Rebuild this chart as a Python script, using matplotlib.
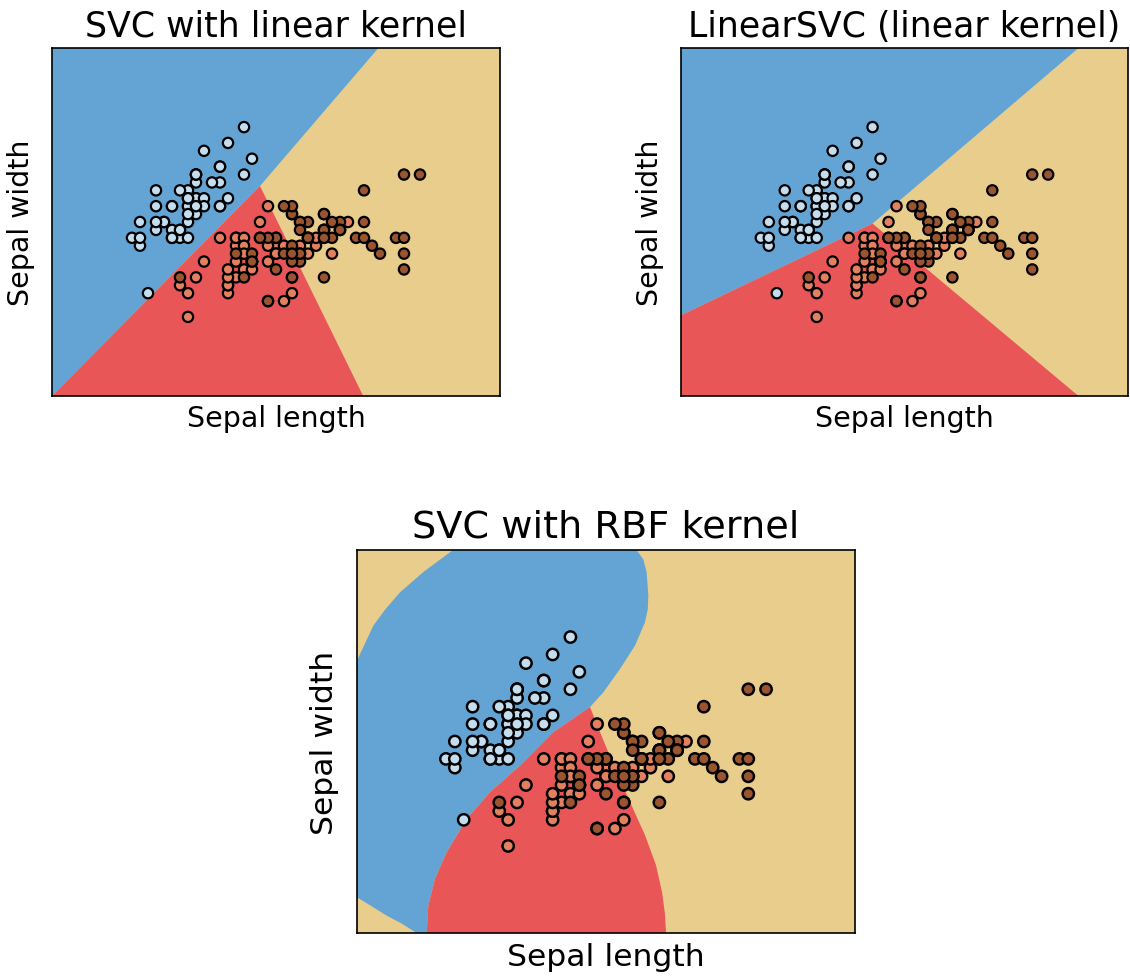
import numpy as np
import matplotlib.pyplot as plt

# iris: sepal length / sepal width, 50 per species
sepal_length = [
    5.1, 4.9, 4.7, 4.6, 5.0, 5.4, 4.6, 5.0, 4.4, 4.9, 5.4, 4.8, 4.8, 4.3, 5.8, 5.7, 5.4, 5.1, 5.7, 5.1,
    5.4, 5.1, 4.6, 5.1, 4.8, 5.0, 5.0, 5.2, 5.2, 4.7, 4.8, 5.4, 5.2, 5.5, 4.9, 5.0, 5.5, 4.9, 4.4, 5.1,
    5.0, 4.5, 4.4, 5.0, 5.1, 4.8, 5.1, 4.6, 5.3, 5.0,
    7.0, 6.4, 6.9, 5.5, 6.5, 5.7, 6.3, 4.9, 6.6, 5.2, 5.0, 5.9, 6.0, 6.1, 5.6, 6.7, 5.6, 5.8, 6.2, 5.6,
    5.9, 6.1, 6.3, 6.1, 6.4, 6.6, 6.8, 6.7, 6.0, 5.7, 5.5, 5.5, 5.8, 6.0, 5.4, 6.0, 6.7, 6.3, 5.6, 5.5,
    5.5, 6.1, 5.8, 5.0, 5.6, 5.7, 5.7, 6.2, 5.1, 5.7,
    6.3, 5.8, 7.1, 6.3, 6.5, 7.6, 4.9, 7.3, 6.7, 7.2, 6.5, 6.4, 6.8, 5.7, 5.8, 6.4, 6.5, 7.7, 7.7, 6.0,
    6.9, 5.6, 7.7, 6.3, 6.7, 7.2, 6.2, 6.1, 6.4, 7.2, 7.4, 7.9, 6.4, 6.3, 6.1, 7.7, 6.3, 6.4, 6.0, 6.9,
    6.7, 6.9, 5.8, 6.8, 6.7, 6.7, 6.3, 6.5, 6.2, 5.9,
]
sepal_width = [
    3.5, 3.0, 3.2, 3.1, 3.6, 3.9, 3.4, 3.4, 2.9, 3.1, 3.7, 3.4, 3.0, 3.0, 4.0, 4.4, 3.9, 3.5, 3.8, 3.8,
    3.4, 3.7, 3.6, 3.3, 3.4, 3.0, 3.4, 3.5, 3.4, 3.2, 3.1, 3.4, 4.1, 4.2, 3.1, 3.2, 3.5, 3.6, 3.0, 3.4,
    3.5, 2.3, 3.2, 3.5, 3.8, 3.0, 3.8, 3.2, 3.7, 3.3,
    3.2, 3.2, 3.1, 2.3, 2.8, 2.8, 3.3, 2.4, 2.9, 2.7, 2.0, 3.0, 2.2, 2.9, 2.9, 3.1, 3.0, 2.7, 2.2, 2.5,
    3.2, 2.8, 2.5, 2.8, 2.9, 3.0, 2.8, 3.0, 2.9, 2.6, 2.4, 2.4, 2.7, 2.7, 3.0, 3.4, 3.1, 2.3, 3.0, 2.5,
    2.6, 3.0, 2.6, 2.3, 2.7, 3.0, 2.9, 2.9, 2.5, 2.8,
    3.3, 2.7, 3.0, 2.9, 3.0, 3.0, 2.5, 2.9, 2.5, 3.6, 3.2, 2.7, 3.0, 2.5, 2.8, 3.2, 3.0, 3.8, 2.6, 2.2,
    3.2, 2.8, 2.8, 2.7, 3.3, 3.2, 2.8, 3.0, 2.8, 3.0, 2.8, 3.8, 2.8, 2.8, 2.6, 3.0, 3.4, 3.1, 3.0, 3.1,
    3.1, 3.1, 2.7, 3.2, 3.3, 3.0, 2.5, 3.0, 3.4, 3.0,
]
species = [0] * 50 + [1] * 50 + [2] * 50

x_range = [3.3, 8.9]
y_range = [1.0, 5.4]

# decision regions (sepal length, sepal width)
svc_blue_x = [3.3, 7.38, 5.90, 3.3]
svc_blue_y = [5.4, 5.4, 3.655, 1.0]
svc_red_x = [3.3, 5.90, 7.19]
svc_red_y = [1.0, 3.655, 1.0]

lsvc_blue_x = [3.3, 8.28, 5.70, 3.3]
lsvc_blue_y = [5.4, 5.4, 3.18, 2.02]
lsvc_red_x = [3.3, 5.70, 8.28, 3.3]
lsvc_red_y = [2.02, 3.18, 1.0, 1.0]

rbf_blue_x = [4.38, 6.445, 6.52, 6.557, 6.576, 6.570, 6.538, 6.48, 6.426, 6.257, 6.070, 5.92,
              5.507, 5.133, 4.796, 4.534, 4.309, 4.177, 4.102, 4.084, 3.971, 3.80, 3.634, 3.46,
              3.3, 3.3, 3.483, 3.62, 3.784, 4.05]
rbf_blue_y = [5.4, 5.4, 5.29, 5.144, 4.875, 4.72, 4.569, 4.43, 4.301, 4.033, 3.765, 3.596,
              3.306, 2.922, 2.617, 2.310, 1.927, 1.621, 1.314, 1.0, 1.0, 1.11, 1.199, 1.31,
              1.41, 4.13, 4.530, 4.72, 4.914, 5.15]
rbf_red_x = [5.92, 6.032, 6.19, 6.37, 6.538, 6.662, 6.73, 6.763, 6.775, 4.084, 4.102, 4.177,
             4.309, 4.534, 4.796, 5.133, 5.507]
rbf_red_y = [3.596, 3.309, 2.919, 2.505, 2.126, 1.781, 1.471, 1.218, 1.0, 1.0, 1.314, 1.621,
             1.927, 2.310, 2.617, 2.922, 3.306]

bg_blue = '#63a4d4'
bg_red = '#e95658'
bg_tan = '#e9cd8c'
point_colors = ['#c4def0', '#e2805f', '#9a5530']

W, H = 1130, 978
fig = plt.figure(figsize=(W / 100, H / 100), dpi=100)


def add_panel(left, top, right, bottom, title, blue, red, scale):
    ax = fig.add_axes([left / W, 1 - bottom / H, (right - left) / W, (bottom - top) / H])
    ax.set_facecolor(bg_tan)
    ax.fill(blue[0], blue[1], color=bg_blue, lw=0)
    ax.fill(red[0], red[1], color=bg_red, lw=0)
    ax.scatter(sepal_length, sepal_width, c=[point_colors[s] for s in species],
               edgecolors='black', linewidths=1.6 * scale, s=55 * scale ** 2, zorder=3)
    ax.set_xlim(x_range)
    ax.set_ylim(y_range)
    ax.set_xticks(())
    ax.set_yticks(())
    for sp in ax.spines.values():
        sp.set_linewidth(1.2)
    ax.set_title(title, fontsize=25 * scale, pad=9 * scale)
    ax.set_xlabel('Sepal length', fontsize=20.5 * scale, labelpad=6 * scale)
    ax.set_ylabel('Sepal width', fontsize=20.5 * scale, labelpad=12 * scale)
    return ax


add_panel(52, 49, 500, 397, 'SVC with linear kernel',
          (svc_blue_x, svc_blue_y), (svc_red_x, svc_red_y), 1.0)
add_panel(681, 49, 1128, 397, 'LinearSVC (linear kernel)',
          (lsvc_blue_x, lsvc_blue_y), (lsvc_red_x, lsvc_red_y), 1.0)
add_panel(357, 551, 855, 934, 'SVC with RBF kernel',
          (rbf_blue_x, rbf_blue_y), (rbf_red_x, rbf_red_y), 1.1)

plt.savefig('out.png', dpi=100)
